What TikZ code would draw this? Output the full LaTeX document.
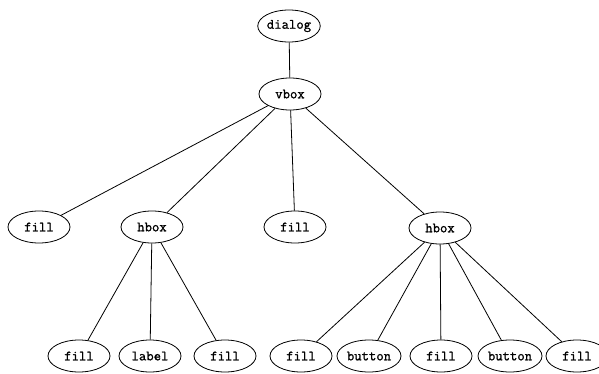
\documentclass[tikz,border=0pt]{standalone}
\usepackage{fontspec}
\newfontfamily\ndfont{Latin Modern Mono}[AutoFakeBold=1.2]
\usetikzlibrary{shapes.geometric}
\begin{document}
\begin{tikzpicture}[x=1pt,y=1pt,
  nd/.style={ellipse,draw,line width=0.8pt,inner sep=0pt,minimum width=62pt,minimum height=32pt,
    font=\fontsize{14.3}{16}\selectfont\ndfont\bfseries},
  wide/.style={minimum width=64pt},
  edge/.style={line width=0.8pt}]
\useasboundingbox (0,0) rectangle (599,373);
\node[nd] (dialog) at (289,347) {dialog};
\node[nd] (vbox) at (290,279) {vbox};
\node[nd] (f1) at (39,146) {fill};
\node[nd] (h1) at (152,146) {hbox};
\node[nd] (f2) at (295,146) {fill};
\node[nd] (h2) at (440,145) {hbox};
\node[nd] (a1) at (79,17) {fill};
\node[nd] (a2) at (150,17) {label};
\node[nd] (a3) at (225,17) {fill};
\node[nd] (b1) at (301,17) {fill};
\node[nd,wide] (b2) at (369,17) {button};
\node[nd] (b3) at (441,17) {fill};
\node[nd,wide] (b4) at (510,17) {button};
\node[nd] (b5) at (577,17) {fill};
\draw[edge] (dialog) -- (vbox);
\foreach \t in {f1,h1,f2,h2} \draw[edge] (vbox) -- (\t);
\foreach \t in {a1,a2,a3} \draw[edge] (h1) -- (\t);
\foreach \t in {b1,b2,b3,b4,b5} \draw[edge] (h2) -- (\t);
\end{tikzpicture}
\end{document}
